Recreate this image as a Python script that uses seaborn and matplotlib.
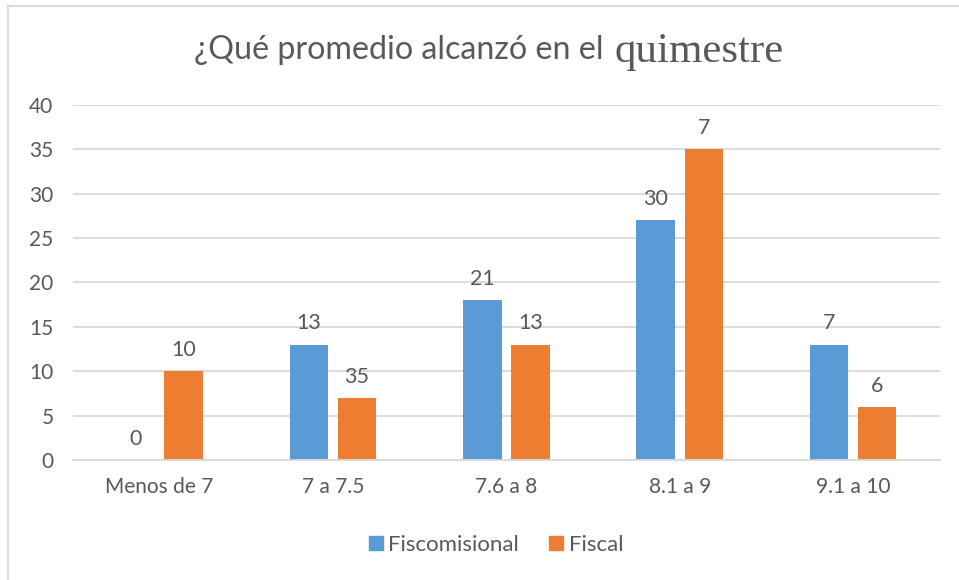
import numpy as np
import pandas as pd
import matplotlib.pyplot as plt
import seaborn as sns
from matplotlib.lines import Line2D

# data
categorias = ["Menos de 7", "7 a 7.5", "7.6 a 8", "8.1 a 9", "9.1 a 10"]
fiscomisional = [0, 13, 18, 27, 13]
fiscal = [10, 7, 13, 35, 6]
# labels as printed in the original (they do not match bar heights)
etiq_fiscomisional = ["0", "13", "21", "30", "7"]
etiq_fiscal = ["10", "35", "13", "7", "6"]
series = ["Fiscomisional", "Fiscal"]

df = pd.DataFrame({
    "categoria": categorias * 2,
    "valor": fiscomisional + fiscal,
    "serie": [series[0]] * 5 + [series[1]] * 5,
})

gris = "#595959"
sns.set_style("white")
plt.rcParams["font.family"] = ["Lato", "DejaVu Sans"]

fig = plt.figure(figsize=(9.59, 5.80), dpi=100)
ax = fig.add_axes([0.076, 0.207, 0.904, 0.612])

sns.barplot(data=df, x="categoria", y="valor", hue="serie",
            palette=["#5B9BD5", "#ED7D31"], width=0.555, gap=0.2,
            saturation=1, linewidth=0, ax=ax, legend=False)

for cont, etiq in zip(ax.containers, [etiq_fiscomisional, etiq_fiscal]):
    ax.bar_label(cont, labels=etiq, padding=8, fontsize=15.5, color=gris)

ax.set_ylim(0, 40)
ax.set_yticks(range(0, 41, 5))
ax.set_xlim(-0.5, 4.5)
ax.yaxis.grid(True, color="#D9D9D9", linewidth=1.3)
ax.set_axisbelow(True)
for s in ["top", "right", "left"]:
    ax.spines[s].set_visible(False)
ax.spines["bottom"].set_color("#D9D9D9")
ax.spines["bottom"].set_linewidth(1.3)
ax.tick_params(axis="y", length=0, pad=14, labelsize=15, labelcolor=gris)
ax.tick_params(axis="x", length=0, pad=12, labelsize=15, labelcolor=gris)
ax.set_xlabel("")
ax.set_ylabel("")

# title in two fonts like the original
fig.text(0.629, 0.913, "¿Qué promedio alcanzó en el", ha="right", va="center",
         fontsize=23.2, color=gris, family=["Lato", "DejaVu Sans"])
fig.text(0.641, 0.911, "quimestre", ha="left", va="center",
         fontsize=31, color=gris, family=["Liberation Serif", "DejaVu Serif"])

# legend
handles = [Line2D([], [], marker="s", linestyle="", markersize=10, color=c)
           for c in ["#5B9BD5", "#ED7D31"]]
fig.legend(handles, series, loc="center", bbox_to_anchor=(0.515, 0.06), ncol=2,
           frameon=False, fontsize=16, labelcolor=gris, handletextpad=0.05,
           handlelength=1.0, columnspacing=1.2)

# chart border (top and left visible)
fig.add_artist(Line2D([0.0088, 1.0], [0.99, 0.99], transform=fig.transFigure,
                      color="#D9D9D9", linewidth=1.5))
fig.add_artist(Line2D([0.0088, 0.0088], [0.0, 0.99], transform=fig.transFigure,
                      color="#D9D9D9", linewidth=1.5))

fig.savefig("out.png", dpi=100)
